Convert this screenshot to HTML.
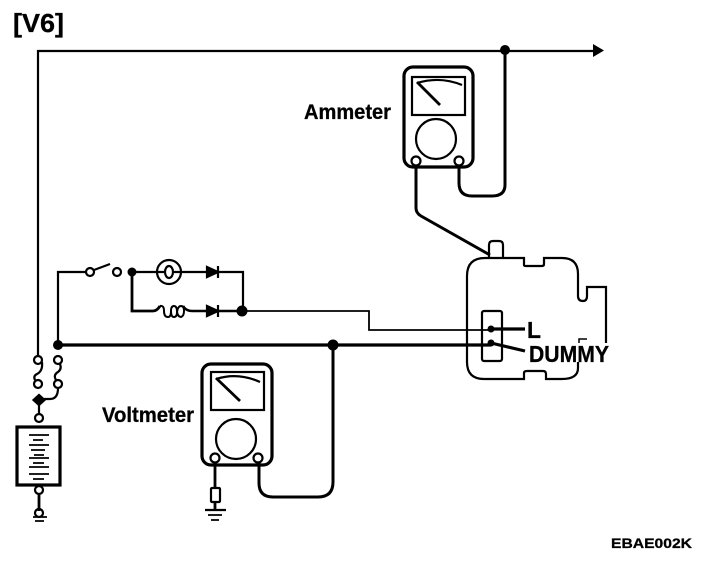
<!DOCTYPE html>
<html><head><meta charset="utf-8"><style>
html,body{margin:0;padding:0;background:#fff}
svg{display:block}
text{font-family:"Liberation Sans",sans-serif;font-weight:bold;fill:#000;stroke:#000;stroke-width:.3px}
</style></head><body>
<svg width="704" height="574" viewBox="0 0 704 574" xmlns="http://www.w3.org/2000/svg">
<g fill="none" stroke="#000" stroke-width="2.200">
<!-- top wire -->
<path d="M38 357V51H595" />
<path d="M593 44L604 50.500L593 57Z" fill="#000" stroke="none"/>
<circle cx="505" cy="50" r="5" fill="#000" stroke="none"/>
<!-- ammeter -->
<rect x="404" y="67" width="69" height="100" rx="9" stroke-width="3.200"/>
<rect x="412" y="77" width="53" height="38"/>
<path d="M417 83Q440 76 462 85"/>
<path d="M417 82L440 105" stroke-width="2.800"/>
<circle cx="436" cy="139" r="20"/>
<circle cx="416" cy="161" r="4.500" fill="#fff"/>
<circle cx="459" cy="161" r="4.500" fill="#fff"/>
<path d="M459 165V183Q459 196 472 196H492Q505 196 505 185V50" stroke-width="3"/>
<path d="M416 165V208Q416 213 421 216L490 255" stroke-width="3"/>
<!-- alternator -->
<path d="M489 257V245Q489 241 493 241H499Q503 241 503 245V257"/>
<path d="M467 276Q467 258 485 258H524V265Q524 266 526 266H542Q544 266 544 264V258H562Q578 258 578 274V296Q578 301 583 301Q587 301 587 296V287H606V343" />
<path d="M467 276V362Q467 379 484 379H524V373Q524 371 527 371H543Q546 371 546 374V379H562Q578 379 578 368V362" />
<path d="M579 343V339H587" stroke-width="1.500"/>
<rect x="482" y="311" width="20" height="50" rx="2"/>
<path d="M491 329H525" stroke-width="3.200"/>
<path d="M491 343L525 351" stroke-width="3.200"/>
<circle cx="491" cy="329" r="3.500" fill="#000" stroke="none"/>
<circle cx="491" cy="343" r="3.500" fill="#000" stroke="none"/>
<!-- L wire -->
<path d="M243 311H369V330H491" stroke-width="1.800"/>
<!-- main wire -->
<path d="M58 345H491" stroke-width="3.200"/>
<circle cx="333" cy="345" r="5.500" fill="#000" stroke="none"/>
<path d="M333 345V482Q333 497 318 497H273Q259 497 259 483V462" stroke-width="3"/>
<!-- control circuit -->
<path d="M58 345V272H86"/>
<circle cx="90" cy="272" r="4"/>
<path d="M94 270L110 264"/>
<circle cx="117" cy="272" r="4"/>
<circle cx="132" cy="272" r="4.500" fill="#000" stroke="none"/>
<path d="M132 272H157"/>
<circle cx="169" cy="272" r="12"/>
<ellipse cx="169" cy="272" rx="4" ry="6"/>
<path d="M157 272H164M174 272H181"/>
<path d="M181 272H207M218 272H243V311"/>
<path d="M207 267L218 272L207 277Z" fill="#000"/>
<path d="M218 266V278"/>
<path d="M132 272V311H153Q157 311 160 306" stroke-width="2.800"/>
<path d="M160 306Q164 305 164 311Q164 317 168 317Q171 317 171 311Q171 306 174 306Q177 306 177 312Q177 317 174 317Q171 317 171 311M168 317Q164 317 164 311M177 312Q178 317 181 317Q184 316 184 311Q184 306 181 306Q178 306 177 312" stroke-width="2"/>
<path d="M183 306Q186 311 192 311H207M218 311H243" stroke-width="2.600"/>
<path d="M207 306L218 311L207 316Z" fill="#000"/>
<path d="M218 305V317"/>
<circle cx="242" cy="311" r="5.500" fill="#000" stroke="none"/>
<circle cx="58" cy="345" r="5" fill="#000" stroke="none"/>
<!-- fuse links -->
<circle cx="38" cy="360" r="4"/>
<circle cx="38" cy="384" r="4"/>
<path d="M42 362Q43 371 37 374Q33 376 35 380"/>
<circle cx="58" cy="360" r="4"/>
<circle cx="58" cy="384" r="4"/>
<path d="M60 364Q62 369 58 372Q53 375 56 380"/>
<path d="M58 388Q58 399 50 399H39"/>
<path d="M39 395L44.500 400L39 405L33.500 400Z" fill="#000"/>
<path d="M39 404V414"/>
<circle cx="39" cy="418" r="4"/>
<!-- battery -->
<rect x="17" y="427" width="43" height="58" stroke-width="3.200"/>
<g stroke-width="1.800">
<path d="M29 435H49M33 440H43M29 445H49M31 450H45M34 455H44M29 458H49M33 463H44M29 467H49M29 474H49M33 479H44"/>
</g>
<circle cx="39" cy="490" r="4"/>
<path d="M39 494V511" stroke-width="2.800"/>
<circle cx="39" cy="513" r="4"/>
<path d="M33 517H47M35 521H44" stroke-width="1.800"/>
<!-- voltmeter -->
<rect x="202" y="364" width="70" height="101" rx="9" stroke-width="3.200"/>
<rect x="211" y="372" width="53" height="38"/>
<path d="M216 379Q238 372 260 382"/>
<path d="M216 378L240 401" stroke-width="2.800"/>
<circle cx="236" cy="439" r="20"/>
<circle cx="215" cy="458" r="4.500" fill="#fff"/>
<circle cx="258" cy="458" r="4.500" fill="#fff"/>
<path d="M215 462V488M215 502V510" stroke-width="2.800"/>
<rect x="211" y="488" width="9" height="14" rx="1"/>
<path d="M205 510H226"/>
<path d="M208 515H222M211 520H219" stroke-width="1.800"/>
</g>
<text x="13" y="32" font-size="26" textLength="51" lengthAdjust="spacingAndGlyphs">[V6]</text>
<text x="304" y="119" font-size="21" textLength="87" lengthAdjust="spacingAndGlyphs">Ammeter</text>
<text x="102" y="422" font-size="21" textLength="92" lengthAdjust="spacingAndGlyphs">Voltmeter</text>
<text x="527" y="338" font-size="23" textLength="14" lengthAdjust="spacingAndGlyphs">L</text>
<text x="529" y="362" font-size="23" textLength="80" lengthAdjust="spacingAndGlyphs">DUMMY</text>
<text x="611" y="548" font-size="14" textLength="81" lengthAdjust="spacingAndGlyphs">EBAE002K</text>
</svg>
</body></html>
